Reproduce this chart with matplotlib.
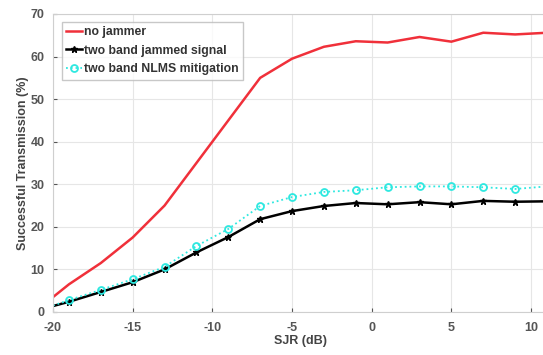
import matplotlib
matplotlib.use("Agg")
import matplotlib.pyplot as plt
import numpy as np

plt.rcParams['font.family'] = ['Liberation Sans', 'DejaVu Sans']
plt.rcParams['font.weight'] = 'bold'
plt.rcParams['axes.unicode_minus'] = False

sjr = [-20, -19, -17, -15, -13, -11, -9, -7, -5, -3, -1, 1, 3, 5, 7, 9, 11]
no_jammer = [3.5, 6.5, 11.5, 17.5, 25, 35, 45, 55, 59.5, 62.3, 63.6, 63.3, 64.6, 63.5, 65.6, 65.2, 65.6]
jammed = [1.4, 2.4, 4.7, 7.0, 10.0, 14.0, 17.6, 21.8, 23.7, 24.9, 25.6, 25.3, 25.8, 25.3, 26.1, 25.9, 26.0]
nlms = [1.5, 2.8, 5.2, 7.7, 10.6, 15.5, 19.5, 24.9, 27.0, 28.2, 28.6, 29.3, 29.5, 29.5, 29.3, 28.9, 29.5]
labels = ['no jammer', 'two band jammed signal', 'two band NLMS mitigation']

fig = plt.figure(figsize=(5.43, 3.55), dpi=100)
ax = fig.add_axes([53/543, 1-312/355, (547-53)/543, (312-14)/355])

ax.plot(sjr, no_jammer, color='#f0303a', lw=1.8, label=labels[0])
ax.plot(sjr, jammed, color='black', lw=1.8, marker='*', ms=5, markevery=list(range(1, len(sjr))), label=labels[1])
ax.plot(sjr, nlms, color='#2ee8e0', lw=1.3, ls=':', marker='o', ms=5, mfc='none', mew=1.3,
        markevery=list(range(1, len(sjr))), label=labels[2])

ax.set_xlim(-20, 11)
ax.set_ylim(0, 70)
ax.set_xticks([-20, -15, -10, -5, 0, 5, 10])
ax.set_yticks([0, 10, 20, 30, 40, 50, 60, 70])
ax.grid(True, color='#e6e6e6', lw=0.8)
ax.set_axisbelow(True)
for s in ax.spines.values():
    s.set_color('#cfcfcf')
ax.tick_params(colors='#555555', labelsize=9, length=3, direction='in')
ax.tick_params(axis='x', pad=7)
ax.tick_params(axis='y', pad=6)
for t in ax.get_xticklabels() + ax.get_yticklabels():
    t.set_fontweight('bold')
ax.set_xlabel('SJR (dB)', fontsize=9, fontweight='bold', color='#444444', labelpad=1)
ax.set_ylabel('Successful Transmission (%)', fontsize=9, fontweight='bold', color='#444444', labelpad=1)

leg = ax.legend(loc='upper left', frameon=True, fancybox=False, edgecolor='#bbbbbb',
                handlelength=1.3, handletextpad=0.2, borderpad=0.35, labelspacing=0.55,
                prop={'weight': 'bold', 'size': 8.8}, bbox_to_anchor=(0.005, 0.995))
for t in leg.get_texts():
    t.set_color('#333333')

fig.savefig('out.png', dpi=100)
